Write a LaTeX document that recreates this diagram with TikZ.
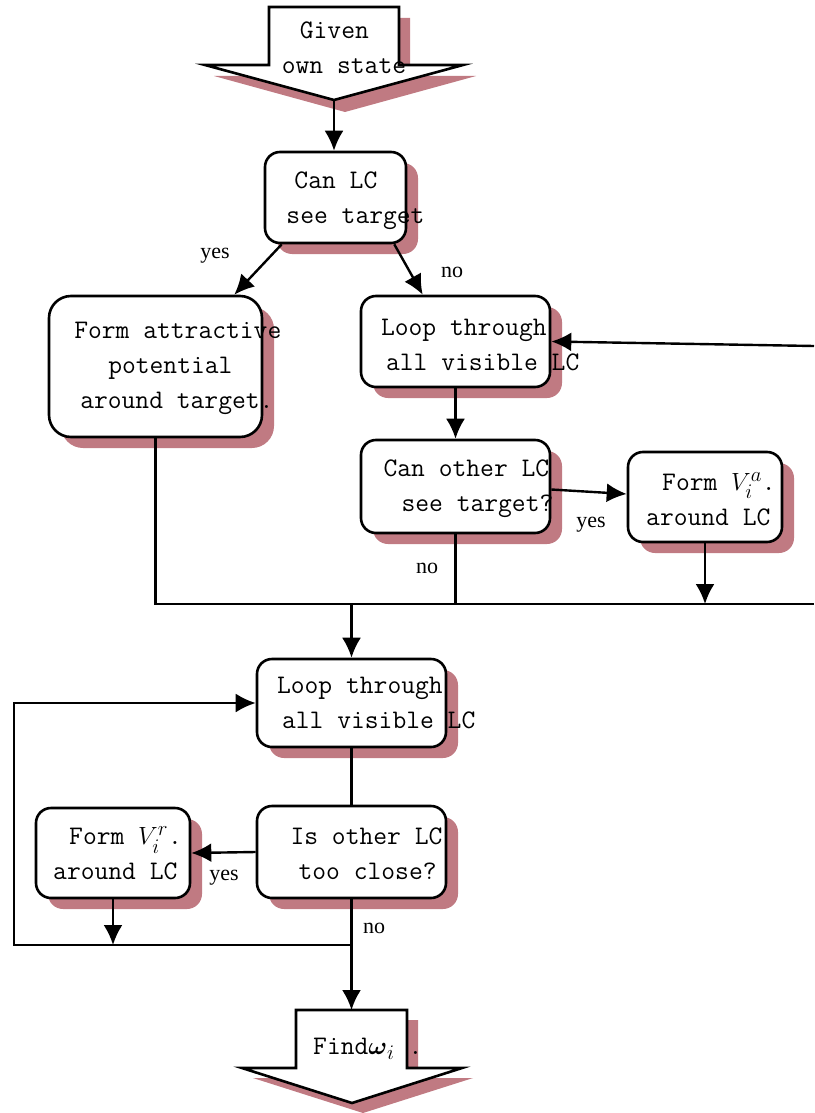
\documentclass[tikz,border=0pt]{standalone}
\usepackage{amsmath}
\usepackage{fontspec}
\setmainfont{Liberation Serif}
\usetikzlibrary{arrows.meta,shadows}
\definecolor{pinkshadow}{RGB}{192,122,130}
\tikzset{
	box/.style={draw, line width=2.6pt, fill=white, rounded corners=15pt, inner sep=0pt,
		drop shadow={shadow xshift=12pt, shadow yshift=-11pt, fill=pinkshadow, opacity=1}},
	outline/.style={draw, line width=2.6pt, fill=white, line join=miter},
	txt/.style={font=\ttfamily\fontsize{26.8}{35}\selectfont, align=left, inner sep=0pt},
	tag/.style={font=\fontsize{22}{24}\selectfont, inner sep=0pt},
	link/.style={line width=2.4pt},
	flow/.style={line width=2.4pt, -{Latex[length=20pt,width=19pt]}}
}
\newcommand{\bigmath}[1]{{\fontsize{30}{35}\selectfont$#1$}}
\begin{document}
\begin{tikzpicture}[x=1pt, y=-1pt]
	\useasboundingbox (0,0) rectangle (814,1113);
	
	\fill[pinkshadow] (280,18) -- (410,18) -- (410,76) -- (476,76) -- (345,112) -- (214,76) -- (280,76) -- cycle;
	\draw[outline] (269,7) -- (399,7) -- (399,65) -- (463,65) -- (334,100) -- (205,65) -- (269,65) -- cycle;
	\coordinate (given) at (334,100);
	\node[txt] (giventext) at (344,47.5) {\hspace*{18pt}Given\\own state};
	
	\node[box, minimum width=141pt, minimum height=91pt] (cansee) at (335.5,197.5) {};
	\node[txt] (canseetext) at (355.5,200.5) {\hspace*{8pt}Can LC\\see target};
	
	\node[box, rounded corners=22pt, minimum width=213pt, minimum height=141pt] (attract) at (155.5,366.5) {};
	\node[txt] (attracttext) at (177.8,368.5) {Form attractive\\\hspace*{34pt}potential\\\hspace*{6pt}around target.};
	
	\node[box, minimum width=189pt, minimum height=91pt] (loop1) at (455.5,341.5) {};
	\node[txt] (loop1text) at (480.2,344.5) {Loop through\\\hspace*{5pt}all visible LC};
	
	\node[box, minimum width=189pt, minimum height=93pt] (other) at (455.5,486.5) {};
	\node[txt] (othertext) at (468.5,488.5) {Can other LC\\\hspace*{18pt}see target?};
	
	\node[box, minimum width=154pt, minimum height=90pt] (forma) at (705,497) {};
	\node[txt, anchor=west] (formatext) at (646,499) {\hspace*{16pt}Form \bigmath{V_i^a}.\\around LC};
	
	\node[box, minimum width=189pt, minimum height=88pt] (loop2) at (351.5,703) {};
	\node[txt] (loop2text) at (376.2,703) {Loop through\\\hspace*{5pt}all visible LC};
	
	\node[box, minimum width=189pt, minimum height=92pt] (close) at (351.5,852) {};
	\node[txt] (closetext) at (366.5,853.5) {Is other LC\\\hspace*{8pt}too close?};
	
	\node[box, minimum width=154pt, minimum height=90pt] (formr) at (113,853) {};
	\node[txt, anchor=west] (formrtext) at (53,853.5) {\hspace*{16pt}Form \bigmath{V_i^r}.\\around LC};
	
	\fill[pinkshadow] (307,1020) -- (418,1020) -- (418,1078) -- (473,1078) -- (363,1113) -- (253,1078) -- (307,1078) -- cycle;
	\draw[outline] (296,1010) -- (407,1010) -- (407,1068) -- (462,1068) -- (352,1103) -- (242,1068) -- (296,1068) -- cycle;
	\coordinate (finish) at (352,1010);
	\node[txt, anchor=west] (finishtext) at (313,1049) {Find\bigmath{\boldsymbol{\omega}_i}\hspace*{14pt}.};
	
	\coordinate (back) at (814,346);
	\coordinate (edge) at (814,604);
	\coordinate (ret) at (14,945);
	
	\draw[flow] (given) -- (given |- cansee.north);
	\draw[flow] ([xshift=18pt]cansee.south west) -- ([xshift=-29pt]attract.north east);
	\draw[flow] ([xshift=-13pt]cansee.south east) -- ([xshift=63pt]loop1.north west);
	\draw[flow] (back) -- (loop1.east);
	\draw[flow] (loop1.south) -- (other.north);
	\draw[flow] ([yshift=-3pt]other.east) -- ([yshift=3pt]forma.west);
	\draw[link] (attract.south) |- (edge);
	\draw[link] (other.south) -- (other.south |- edge);
	\draw[flow] (forma.south) -- (forma.south |- edge);
	\draw[flow] (loop2.north |- edge) -- (loop2.north);
	\draw[link] (loop2.south) -- (close.north);
	\draw[flow] (close.west) -- (formr.east);
	\draw[flow] (formr.south) -- (formr.south |- ret);
	\draw[flow] (close.south) -- (close.south |- finish);
	\draw[flow] (close.south |- ret) -- (ret) |- (loop2.west);
	
	\node[tag] (yes1) at (215,256) {yes};
	\node[tag] (no1) at (452,272) {no};
	\node[tag] (yes2) at (591,525) {yes};
	\node[tag] (no2) at (427,568) {no};
	\node[tag] (yes3) at (224,878) {yes};
	\node[tag] (no3) at (374,928) {no};
\end{tikzpicture}
\end{document}
